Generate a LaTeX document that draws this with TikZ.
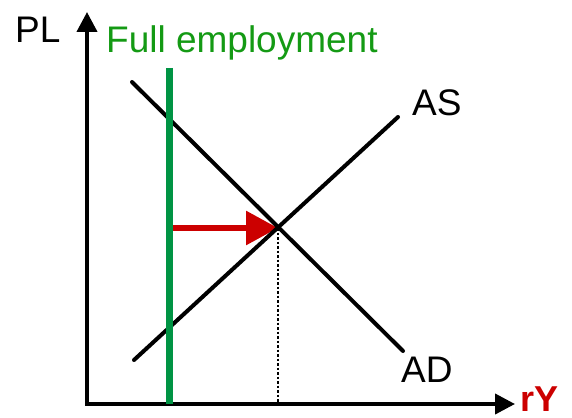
\documentclass[tikz,border=0pt]{standalone}
\usepackage{fontspec}
\setmainfont{Liberation Sans}
\usetikzlibrary{arrows.meta}
\definecolor{fegreen}{RGB}{0,148,68}
\definecolor{fetext}{RGB}{20,154,20}
\definecolor{shiftred}{RGB}{204,0,0}

\begin{document}
\begin{tikzpicture}[x=1pt,y=-1pt,
                    every node/.style={inner sep=0pt,font=\fontsize{37}{40}\selectfont},
                    curve/.style={line width=4pt,line cap=round}]
  \useasboundingbox (0,0) rectangle (572,417);
  % axes
  \coordinate (O) at (87,404);
  \coordinate (ytip) at (87,12);
  \coordinate (xtip) at (515,404);
  \draw[line width=4pt,{Triangle[length=20pt,width=20pt]}-{Triangle[length=20pt,width=20pt]}]
    (ytip) -- (O) -- (xtip);
  \node[anchor=base west] (pl) at (15,43) {PL};
  \node[anchor=base west,text=shiftred,font=\fontsize{36}{40}\selectfont\bfseries] (ry) at (520,411) {rY};
  % supply and demand
  \coordinate (as0) at (134,360);
  \coordinate (as1) at (398,117);
  \coordinate (ad0) at (132,82);
  \coordinate (ad1) at (403,351);
  \coordinate (E) at (278,228);
  \coordinate (fe0) at (169.5,68);
  \draw[line width=6pt,shiftred,-{Triangle[length=32pt,width=33pt]}] (fe0 |- E) -- (E);
  \draw[curve] (as0) -- (as1);
  \draw[curve] (ad0) -- (ad1);
  \draw[line width=2.5pt,dash pattern=on 2.5pt off 2pt] (E) -- (E |- O);
  \node[anchor=base west] (as) at (412,116) {AS};
  \node[anchor=base west] (ad) at (401,382) {AD};
  % full employment
  \draw[line width=7pt,fegreen] (fe0) -- (fe0 |- O);
  \node[anchor=base west,text=fetext] (fe) at (106,53) {Full employment};
\end{tikzpicture}
\end{document}
